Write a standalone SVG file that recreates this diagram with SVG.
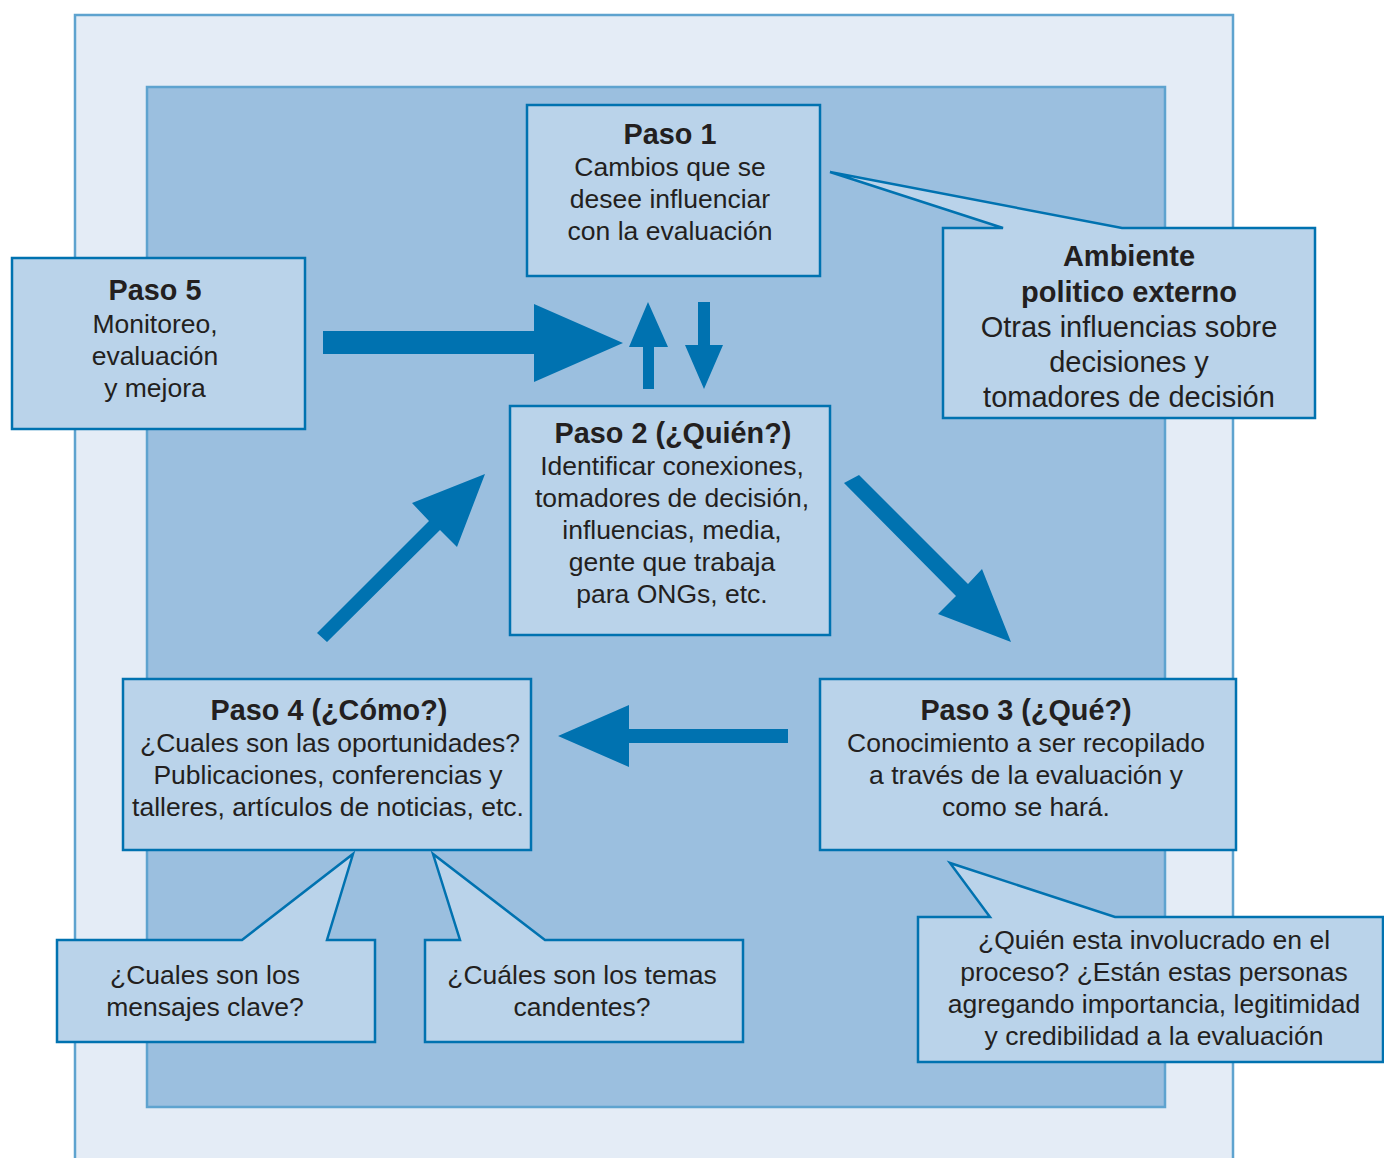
<svg xmlns="http://www.w3.org/2000/svg" width="1384" height="1158" viewBox="0 0 1384 1158">
<style>
.frame{stroke:#5ea3cf;stroke-width:2.5}
.node{fill:#bad3ea;stroke:#0072b0;stroke-width:2.5}
.arrow{fill:#0072b0}
text{font-family:"Liberation Sans",Arial,Helvetica,sans-serif;fill:#231f20;text-anchor:middle;font-size:26.5px}
.b{font-weight:bold;font-size:28.8px}
.big{font-size:29px}
.bigb{font-size:29px;font-weight:bold}
</style>
<rect width="1384" height="1158" fill="#ffffff"/>
<rect class="frame" x="75" y="15" width="1158" height="1170" fill="#e4ecf6"/>
<rect class="frame" x="147" y="87" width="1018" height="1020" fill="#9bbfdf"/>

<g id="connectors">
<polygon class="arrow" points="323,331 534,331 534,304 623,343 534,382 534,354 323,354"/>
<polygon class="arrow" points="648,302 668,347 654,347 654,389 643,389 643,347 629,347"/>
<polygon class="arrow" points="698,302 710,302 710,345 723,345 704,389 685,345 698,345"/>
<polygon class="arrow" points="317,633 429,521 412,503 485,474 457,547 440,530 327,642"/>
<polygon class="arrow" points="859,475 968,584 982,569 1011,642 938,614 956,596 844,483"/>
<polygon class="arrow" points="788,729 629,729 629,705 558,736 629,767 629,743 788,743"/>
</g>

<g id="paso1">
<rect class="node" x="527" y="105" width="293" height="171"/>
<text class="b" x="670" y="144">Paso 1</text>
<text x="670" y="176">Cambios que se</text>
<text x="670" y="208">desee influenciar</text>
<text x="670" y="240">con la evaluación</text>
</g>

<g id="paso5">
<rect class="node" x="12" y="258" width="293" height="171"/>
<text class="b" x="155" y="300">Paso 5</text>
<text x="155" y="333">Monitoreo,</text>
<text x="155" y="365">evaluación</text>
<text x="155" y="397">y mejora</text>
</g>

<g id="ambiente">
<path class="node" d="M943,228 L1003,228 L830,172 L1122,228 L1315,228 L1315,418 L943,418 Z"/>
<text class="bigb" x="1129" y="266">Ambiente</text>
<text class="bigb" x="1129" y="302">politico externo</text>
<text class="big" x="1129" y="337">Otras influencias sobre</text>
<text class="big" x="1129" y="372">decisiones y</text>
<text class="big" x="1129" y="407">tomadores de decisión</text>
</g>

<g id="paso2">
<rect class="node" x="510" y="406" width="320" height="229"/>
<text class="b" x="673" y="443">Paso 2 (¿Quién?)</text>
<text x="672" y="475">Identificar conexiones,</text>
<text x="672" y="507">tomadores de decisión,</text>
<text x="672" y="539">influencias, media,</text>
<text x="672" y="571">gente que trabaja</text>
<text x="672" y="603">para ONGs, etc.</text>
</g>

<g id="paso4">
<rect class="node" x="123" y="679" width="408" height="171"/>
<text class="b" x="329" y="720">Paso 4 (¿Cómo?)</text>
<text x="330" y="752">¿Cuales son las oportunidades?</text>
<text x="328" y="784">Publicaciones, conferencias y</text>
<text x="328" y="816">talleres, artículos de noticias, etc.</text>
</g>

<g id="paso3">
<rect class="node" x="820" y="679" width="416" height="171"/>
<text class="b" x="1026" y="720">Paso 3 (¿Qué?)</text>
<text x="1026" y="752">Conocimiento a ser recopilado</text>
<text x="1026" y="784">a través de la evaluación y</text>
<text x="1026" y="816">como se hará.</text>
</g>

<g id="mensajes">
<path class="node" d="M57,940 L242,940 L353,854 L327,940 L375,940 L375,1042 L57,1042 Z"/>
<text x="205" y="984">¿Cuales son los</text>
<text x="205" y="1016">mensajes clave?</text>
</g>

<g id="temas">
<path class="node" d="M425,940 L460,940 L433,854 L545,940 L743,940 L743,1042 L425,1042 Z"/>
<text x="582" y="984">¿Cuáles son los temas</text>
<text x="582" y="1016">candentes?</text>
</g>

<g id="quien">
<path class="node" d="M918,917 L990,917 L950,863 L1115,917 L1383,917 L1383,1062 L918,1062 Z"/>
<text x="1154" y="949">¿Quién esta involucrado en el</text>
<text x="1154" y="981">proceso? ¿Están estas personas</text>
<text x="1154" y="1013">agregando importancia, legitimidad</text>
<text x="1154" y="1045">y credibilidad a la evaluación</text>
</g>
</svg>
